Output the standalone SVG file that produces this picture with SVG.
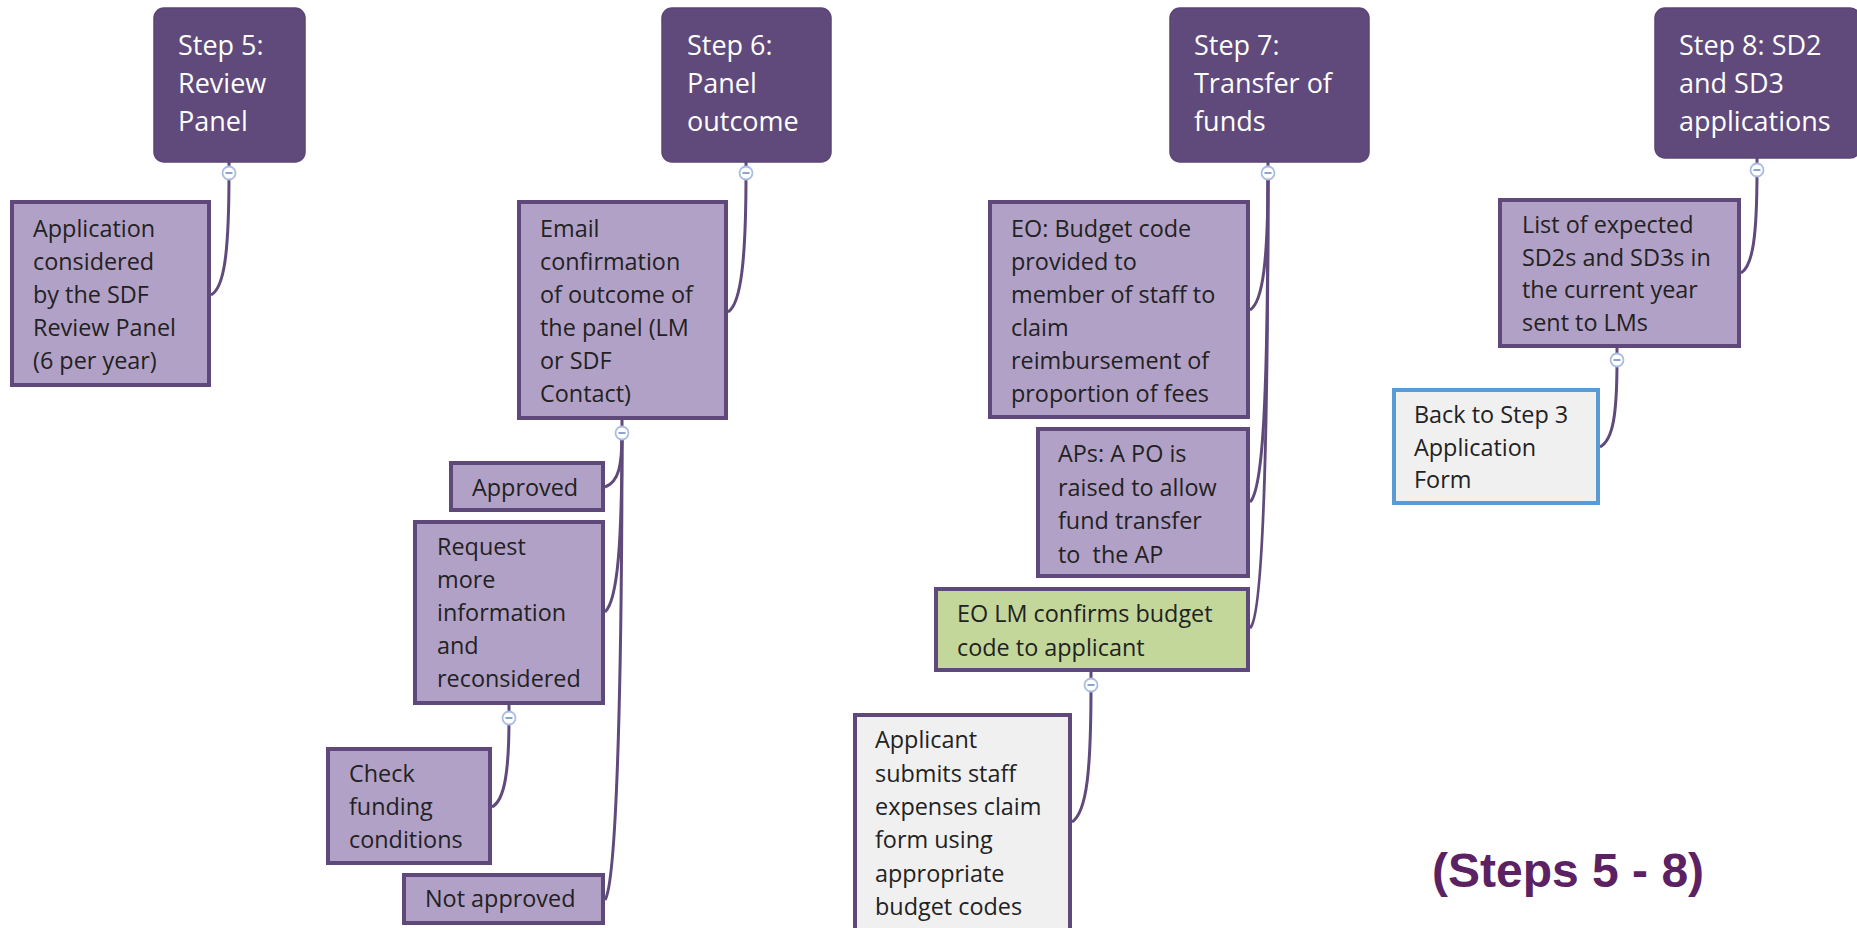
<svg xmlns="http://www.w3.org/2000/svg" width="1857" height="928" viewBox="0 0 1857 928">
<style>
.step{fill:#604a7b;stroke:#5a4575;stroke-width:1.5}
.st{font-family:"Open Sans","Liberation Sans",sans-serif;font-size:27px;fill:#ffffff}
.box{fill:#b2a1c7;stroke:#5f497a;stroke-width:4}
.grn{fill:#c4d79b;stroke:#5f497a;stroke-width:4}
.gry{fill:#f0f0f0;stroke:#5f497a;stroke-width:4}
.blu{fill:#f0f0f0;stroke:#5b9bd5;stroke-width:4}
.t{font-family:"Open Sans","Liberation Sans",sans-serif;font-size:23.4px;fill:#222222}
.con path{fill:none;stroke:#604a7b;stroke-width:3}
.tog circle{fill:#ffffff;stroke:#a9bde3;stroke-width:1.8}
.tog line{stroke:#8fa3cf;stroke-width:2}
.title{font-family:"Liberation Sans",Arial,sans-serif;font-size:48px;font-weight:bold;fill:#5b2162}
</style>

<g id="connectors" class="con">
<path d="M229,162 V173"/>
<path d="M746,162 V173"/>
<path d="M1268,162 V173"/>
<path d="M1757,158 V170"/>
<path d="M622,420 V432"/>
<path d="M509,705 V718"/>
<path d="M1091,672 V685"/>
<path d="M1617,348 V360"/>
<path d="M229,173 C229,255 224,288 211,295"/>
<path d="M746,173 C746,260 741,304 728,312"/>
<path d="M622,433 C622,465 619,482 605,487"/>
<path d="M622,433 C622,540 618,600 605,612"/>
<path d="M622,433 C622,640 618,880 605,900"/>
<path d="M509,718 C509,770 505,800 492,807"/>
<path d="M1268,173 C1268,260 1263,302 1250,310"/>
<path d="M1268,173 C1268,400 1263,490 1250,502"/>
<path d="M1268,173 C1268,450 1263,618 1250,628"/>
<path d="M1091,685 C1091,770 1087,812 1072,822"/>
<path d="M1757,170 C1757,235 1753,266 1741,273"/>
<path d="M1617,360 C1617,415 1613,440 1600,447"/>
</g>

<g id="step5">
<rect class="step" x="154" y="8" width="151" height="154" rx="10"/>
<text class="st" x="178" y="55">Step 5:</text>
<text class="st" x="178" y="93">Review</text>
<text class="st" x="178" y="131">Panel</text>
</g>
<g id="step6">
<rect class="step" x="662" y="8" width="169" height="154" rx="10"/>
<text class="st" x="687" y="55">Step 6:</text>
<text class="st" x="687" y="93">Panel</text>
<text class="st" x="687" y="131">outcome</text>
</g>
<g id="step7">
<rect class="step" x="1170" y="8" width="199" height="154" rx="10"/>
<text class="st" x="1194" y="55">Step 7:</text>
<text class="st" x="1194" y="93">Transfer of</text>
<text class="st" x="1194" y="131">funds</text>
</g>
<g id="step8">
<rect class="step" x="1655" y="8" width="205" height="150" rx="10"/>
<text class="st" x="1679" y="55">Step 8: SD2</text>
<text class="st" x="1679" y="93">and SD3</text>
<text class="st" x="1679" y="131">applications</text>
</g>

<g id="review-panel">
<rect class="box" x="12" y="202" width="197" height="183"/>
<text class="t" x="33" y="237">Application</text>
<text class="t" x="33" y="270">considered</text>
<text class="t" x="33" y="303">by the SDF</text>
<text class="t" x="33" y="336">Review Panel</text>
<text class="t" x="33" y="369">(6 per year)</text>
</g>

<g id="email">
<rect class="box" x="519" y="202" width="207" height="216"/>
<text class="t" x="540" y="237">Email</text>
<text class="t" x="540" y="270">confirmation</text>
<text class="t" x="540" y="303">of outcome of</text>
<text class="t" x="540" y="336">the panel (LM</text>
<text class="t" x="540" y="369">or SDF</text>
<text class="t" x="540" y="402">Contact)</text>
</g>

<g id="approved">
<rect class="box" x="451" y="463" width="152" height="47"/>
<text class="t" x="472" y="496">Approved</text>
</g>

<g id="request">
<rect class="box" x="415" y="522" width="188" height="181"/>
<text class="t" x="437" y="555">Request</text>
<text class="t" x="437" y="588">more</text>
<text class="t" x="437" y="621">information</text>
<text class="t" x="437" y="654">and</text>
<text class="t" x="437" y="687">reconsidered</text>
</g>

<g id="check">
<rect class="box" x="328" y="749" width="162" height="114"/>
<text class="t" x="349" y="782">Check</text>
<text class="t" x="349" y="815">funding</text>
<text class="t" x="349" y="848">conditions</text>
</g>

<g id="not-approved">
<rect class="box" x="404" y="875" width="199" height="48"/>
<text class="t" x="425" y="907">Not approved</text>
</g>

<g id="eo-budget">
<rect class="box" x="990" y="202" width="258" height="215"/>
<text class="t" x="1011" y="237">EO: Budget code</text>
<text class="t" x="1011" y="270">provided to</text>
<text class="t" x="1011" y="303">member of staff to</text>
<text class="t" x="1011" y="336">claim</text>
<text class="t" x="1011" y="369">reimbursement of</text>
<text class="t" x="1011" y="402">proportion of fees</text>
</g>

<g id="aps">
<rect class="box" x="1038" y="429" width="210" height="147"/>
<text class="t" x="1058" y="462">APs: A PO is</text>
<text class="t" x="1058" y="496">raised to allow</text>
<text class="t" x="1058" y="529">fund transfer</text>
<text class="t" x="1058" y="563" style="white-space:pre" xml:space="preserve">to  the AP</text>
</g>

<g id="eo-lm">
<rect class="grn" x="936" y="589" width="312" height="81"/>
<text class="t" x="957" y="622">EO LM confirms budget</text>
<text class="t" x="957" y="656">code to applicant</text>
</g>

<g id="applicant">
<rect class="gry" x="855" y="715" width="215" height="240"/>
<text class="t" x="875" y="748">Applicant</text>
<text class="t" x="875" y="782">submits staff</text>
<text class="t" x="875" y="815">expenses claim</text>
<text class="t" x="875" y="848">form using</text>
<text class="t" x="875" y="882">appropriate</text>
<text class="t" x="875" y="915">budget codes</text>
</g>

<g id="list">
<rect class="box" x="1500" y="200" width="239" height="146"/>
<text class="t" x="1522" y="233">List of expected</text>
<text class="t" x="1522" y="265.5">SD2s and SD3s in</text>
<text class="t" x="1522" y="298">the current year</text>
<text class="t" x="1522" y="330.5">sent to LMs</text>
</g>

<g id="back-to-step3">
<rect class="blu" x="1394" y="390" width="204" height="113"/>
<text class="t" x="1414" y="423">Back to Step 3</text>
<text class="t" x="1414" y="455.5">Application</text>
<text class="t" x="1414" y="488">Form</text>
</g>

<g id="toggles" class="tog">
<g><circle cx="229" cy="173" r="6.5"/><line x1="225.5" y1="173" x2="232.5" y2="173"/></g>
<g><circle cx="746" cy="173" r="6.5"/><line x1="742.5" y1="173" x2="749.5" y2="173"/></g>
<g><circle cx="1268" cy="173" r="6.5"/><line x1="1264.5" y1="173" x2="1271.5" y2="173"/></g>
<g><circle cx="1757" cy="170" r="6.5"/><line x1="1753.5" y1="170" x2="1760.5" y2="170"/></g>
<g><circle cx="622" cy="433" r="6.5"/><line x1="618.5" y1="433" x2="625.5" y2="433"/></g>
<g><circle cx="509" cy="718" r="6.5"/><line x1="505.5" y1="718" x2="512.5" y2="718"/></g>
<g><circle cx="1091" cy="685" r="6.5"/><line x1="1087.5" y1="685" x2="1094.5" y2="685"/></g>
<g><circle cx="1617" cy="360" r="6.5"/><line x1="1613.5" y1="360" x2="1620.5" y2="360"/></g>
</g>

<text id="title" class="title" x="1432" y="887">(Steps 5 - 8)</text>
</svg>
